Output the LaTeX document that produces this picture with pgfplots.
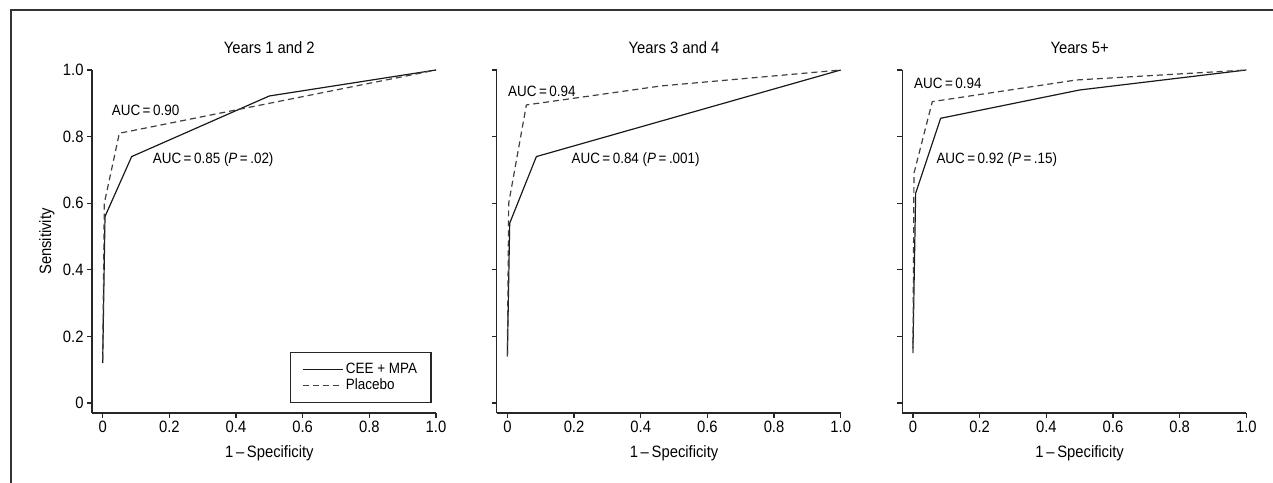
\documentclass[border=0pt]{standalone}
\usepackage{fontspec}
\setmainfont{Liberation Sans}[FakeStretch=0.9]
\usepackage{pgfplots}
\pgfplotsset{compat=1.18}

\newcommand{\fbig}{\fontsize{16.5}{19}\selectfont}
\newcommand{\fmid}{\fontsize{15}{17}\selectfont}

\tikzset{auc/.style={anchor=west, inner sep=0pt, font=\fmid}}

\pgfplotsset{
  rocpanel/.style={
    scale only axis, width=344bp, height=343bp, anchor=south west,
    xmin=-0.032, xmax=1.0, ymin=-0.03, ymax=1.0,
    axis x line*=bottom, axis y line*=left,
    axis line style={line width=1.5bp, color=black!85},
    tick align=outside, major tick length=5bp,
    tick style={line width=1.2bp, color=black!85},
    xtick={0,0.2,0.4,0.6,0.8,1.0}, xticklabels={0,0.2,0.4,0.6,0.8,1.0},
    ytick={0,0.2,0.4,0.6,0.8,1.0},
    tick label style={font=\fbig},
    label style={font=\fbig},
    title style={at={(rel axis cs:0.5155,1.047)}, anchor=center, font=\fbig},
    xlabel style={at={(rel axis cs:0.5155,-0.1166)}, anchor=center},
    xlabel={1\,\textendash\,Specificity},
    clip=false,
  },
  cee/.style={black!90, line width=1.2bp},
  plac/.style={black!75, line width=1.2bp, dash pattern=on 6bp off 4bp},
}

\begin{document}
\begin{tikzpicture}
\draw[line width=2bp, black!80] (11bp,0bp) -- (11bp,473bp) -- (1273bp,473bp);

% years 1 and 2
\begin{axis}[rocpanel, at={(92bp,70bp)}, title={Years 1 and 2},
  yticklabels={0,0.2,0.4,0.6,0.8,1.0},
  ylabel={Sensitivity},
  ylabel style={at={(rel axis cs:-0.131,0.5)}, anchor=center},
  legend style={at={(0.576,0.029)}, anchor=south west, draw=black!85, line width=1.2bp,
    font=\fmid, cells={anchor=west}, row sep=0bp, inner xsep=12bp, inner ysep=9bp},
  legend image code/.code={\draw[#1] (0bp,0bp) -- (40bp,0bp);}]
\addplot[cee] coordinates {(0,0.12) (0.007,0.56) (0.087,0.74) (0.5,0.922) (1,1)};
\addlegendentry{CEE + MPA}
\addplot[plac] coordinates {(0,0.13) (0.005,0.60) (0.05,0.81) (1,1)};
\addlegendentry{Placebo}
\node[auc] at (axis cs:0.027,0.88) {AUC\,=\,0.90};
\node[auc] at (axis cs:0.15,0.73) {AUC\,=\,0.85 (\textit{P}\,=\,.02)};
\end{axis}

% years 3 and 4
\begin{axis}[rocpanel, at={(496.7bp,70bp)}, title={Years 3 and 4}, yticklabels={}]
\addplot[cee] coordinates {(0,0.14) (0.007,0.54) (0.087,0.74) (1,1)};
\addplot[plac] coordinates {(0,0.14) (0.004,0.60) (0.057,0.895) (0.46,0.952) (1,1)};
\node[auc] at (axis cs:0.002,0.935) {AUC\,=\,0.94};
\node[auc] at (axis cs:0.192,0.73) {AUC\,=\,0.84 (\textit{P}\,=\,.001)};
\end{axis}

% years 5+
\begin{axis}[rocpanel, at={(902.3bp,70bp)}, title={Years 5+}, yticklabels={}]
\addplot[cee] coordinates {(0,0.164) (0.008,0.63) (0.083,0.855) (0.5,0.94) (1,1)};
\addplot[plac] coordinates {(0,0.15) (0.003,0.69) (0.058,0.905) (0.49,0.97) (1,1)};
\node[auc] at (axis cs:0.003,0.96) {AUC\,=\,0.94};
\node[auc] at (axis cs:0.07,0.73) {AUC\,=\,0.92 (\textit{P}\,=\,.15)};
\end{axis}

\pgfresetboundingbox
\useasboundingbox (0bp,0bp) rectangle (1273bp,483bp);
\end{tikzpicture}
\end{document}
